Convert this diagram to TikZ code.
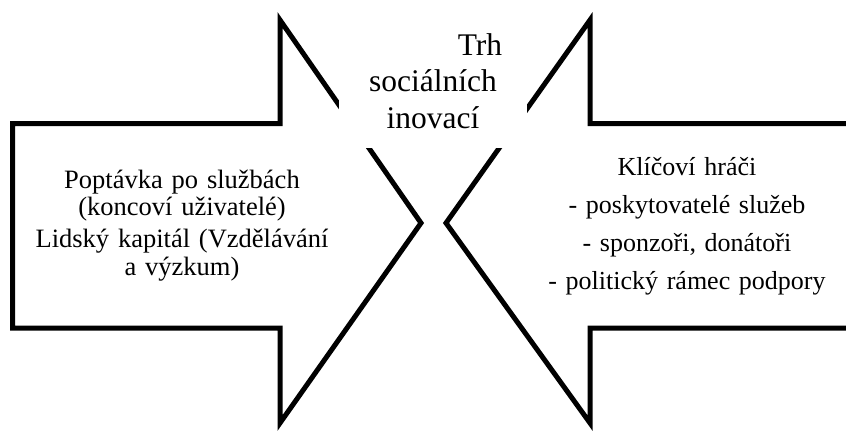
\documentclass[tikz,border=0pt]{standalone}
\usepackage{fontspec}
\setmainfont{Liberation Serif}
\begin{document}
\begin{tikzpicture}[x=1pt,y=-1pt,
  arrowline/.style={line width=5pt, line join=miter, draw=black},
  label/.style={anchor=base, align=center, inner sep=0pt}]
\useasboundingbox (0,0) rectangle (846,432);
\clip (0,0) rectangle (846,432);
\fill[white] (0,0) rectangle (846,432);
% left arrow (pointing right)
\coordinate (la1) at (12.5,123.5);
\coordinate (la2) at (280,123.5);
\coordinate (la3) at (280,20);
\coordinate (latip) at (421,223);
\coordinate (la5) at (280,423);
\coordinate (la6) at (280,328);
\coordinate (la7) at (12.5,328);
\draw[arrowline] (la1) -- (la2) -- (la3) -- (latip) -- (la5) -- (la6) -- (la7) -- cycle;
% right arrow (pointing left), running off the right edge
\coordinate (ra1) at (870,123.5);
\coordinate (ra2) at (590,123.5);
\coordinate (ra3) at (590,20);
\coordinate (ratip) at (446,223);
\coordinate (ra5) at (590,423);
\coordinate (ra6) at (590,328);
\coordinate (ra7) at (870,328);
\draw[arrowline] (ra1) -- (ra2) -- (ra3) -- (ratip) -- (ra5) -- (ra6) -- (ra7);
% centre label
\node[label, fill=white, inner xsep=0pt, inner ysep=20pt, text width=188pt,
      font=\fontsize{31.5}{36.5}\selectfont] (market) at (433,55)
  {\hspace*{94pt}Trh\\ sociálních\\ inovací};
% left label
\node[label, text width=310pt, font=\fontsize{26.5}{27.5}\selectfont] (demand) at (182,188)
  {Poptávka po službách\\ (koncoví uživatelé)\\[4.5pt] Lidský kapitál (Vzdělávání\\ a výzkum)};
% right label
\node[label, text width=280pt, font=\fontsize{26}{38}\selectfont] (players) at (687,175)
  {Klíčoví hráči\\ - poskytovatelé služeb\\ - sponzoři, donátoři\\ - politický rámec podpory};
\end{tikzpicture}
\end{document}
